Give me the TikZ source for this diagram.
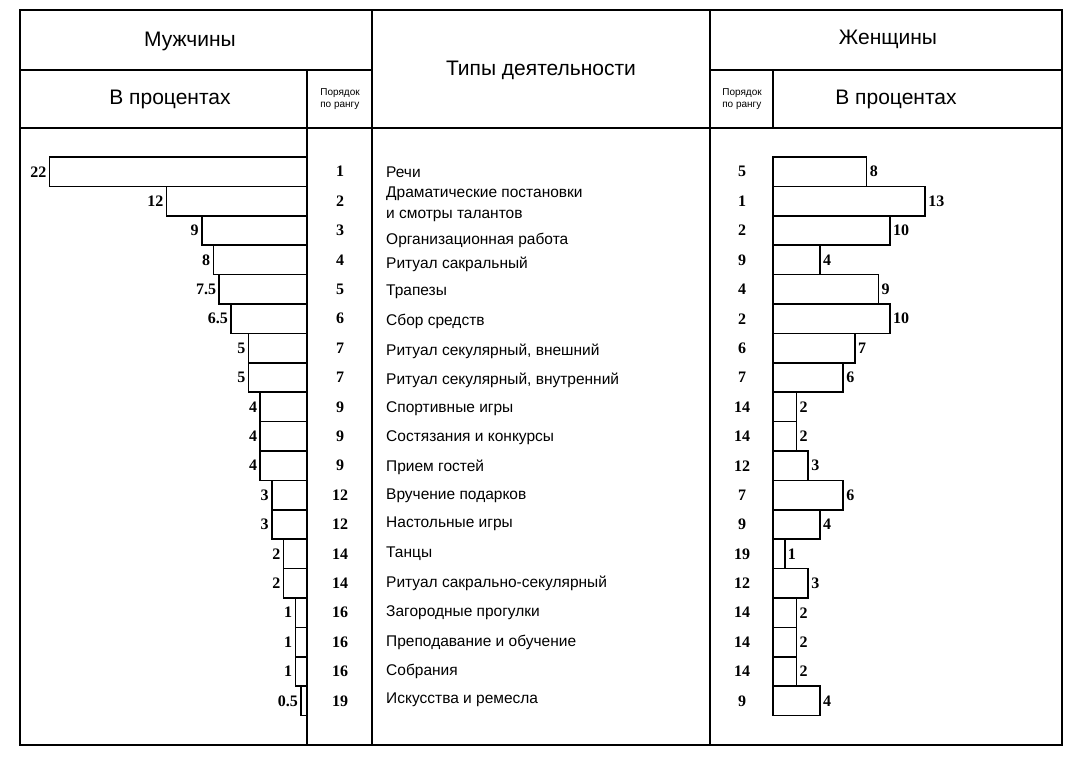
\documentclass[tikz,border=0pt]{standalone}
\usepackage{fontspec}
\setmainfont{Liberation Sans}
\newfontfamily\numfont{Liberation Serif}
\begin{document}
\begin{tikzpicture}[x=1pt,y=-1pt,
  frame/.style={line width=2.6pt},
  bar/.style={draw,line width=1.6pt},
  hdr/.style={font=\fontsize{21}{24}\selectfont},
  small/.style={font=\fontsize{10}{12}\selectfont,align=left,inner sep=0pt},
  act/.style={anchor=west,font=\fontsize{15.5}{18}\selectfont,inner sep=0pt},
  num/.style={font=\numfont\bfseries\fontsize{16}{18}\selectfont,inner sep=3pt}]
\useasboundingbox (0,0) rectangle (1082,758);
\draw[frame] (20,10) rectangle (1062,745);
\draw[frame] (372,10) -- (372,745);
\draw[frame] (710,10) -- (710,745);
\draw[frame] (307,70) -- (307,745);
\draw[frame] (773,70) -- (773,128);
\draw[frame] (20,70) -- (372,70);
\draw[frame] (710,70) -- (1062,70);
\draw[frame] (20,128) -- (1062,128);
\node[hdr] (hm) at (190,41) {Мужчины};
\node[hdr] (hw) at (888,39) {Женщины};
\node[hdr] (ht) at (541,70) {Типы деятельности};
\node[hdr] (hp1) at (170,99) {В процентах};
\node[hdr] (hp2) at (896,99) {В процентах};
\node[small] (r1) at (340,99) {Порядок\\по рангу};
\node[small] (r2) at (742,99) {Порядок\\по рангу};
\def\sc{11.7}
\foreach \i/\lv/\lr/\rr/\rv/\lt in {
 0/22/1/5/8/22, 1/12/2/1/13/12, 2/9/3/2/10/9, 3/8/4/9/4/8, 4/7.5/5/4/9/7.5,
 5/6.5/6/2/10/6.5, 6/5/7/6/7/5, 7/5/7/7/6/5, 8/4/9/14/2/4, 9/4/9/14/2/4,
 10/4/9/12/3/4, 11/3/12/7/6/3, 12/3/12/9/4/3, 13/2/14/19/1/2, 14/2/14/12/3/2,
 15/1/16/14/2/1, 16/1/16/14/2/1, 17/1/16/14/2/1, 18/0.5/19/9/4/0.5}{
  \pgfmathsetmacro\yt{157+29.4*\i}
  \pgfmathsetmacro\yb{\yt+29.4}
  \pgfmathsetmacro\yc{\yt+14.7}
  \pgfmathsetmacro\xl{307-\sc*\lv}
  \pgfmathsetmacro\xr{773+\sc*\rv}
  \draw[bar] (\xl,\yt) rectangle (307,\yb);
  \draw[bar] (773,\yt) rectangle (\xr,\yb);
  \node[num,anchor=east] (lv\i) at (\xl,\yc) {\lt};
  \node[num,anchor=west] (rv\i) at (\xr,\yc) {\rv};
  \node[num] (lr\i) at (340,\yc) {\lr};
  \node[num] (rr\i) at (742,\yc) {\rr};
}
\foreach \t/\y [count=\k] in {Речи/172, Драматические постановки/194, и смотры талантов/216,
 Организационная работа/240, Ритуал сакральный/264, Трапезы/292, Сбор средств/321,
 {Ритуал секулярный, внешний}/351, {Ритуал секулярный, внутренний}/380,
 Спортивные игры/409, Состязания и конкурсы/438, Прием гостей/467,
 Вручение подарков/496, Настольные игры/524, Танцы/554,
 Ритуал сакрально-секулярный/583, Загородные прогулки/613,
 Преподавание и обучение/642, Собрания/671, Искусства и ремесла/700}{
  \node[act] (a\k) at (386,\y) {\t};
}
\end{tikzpicture}
\end{document}
